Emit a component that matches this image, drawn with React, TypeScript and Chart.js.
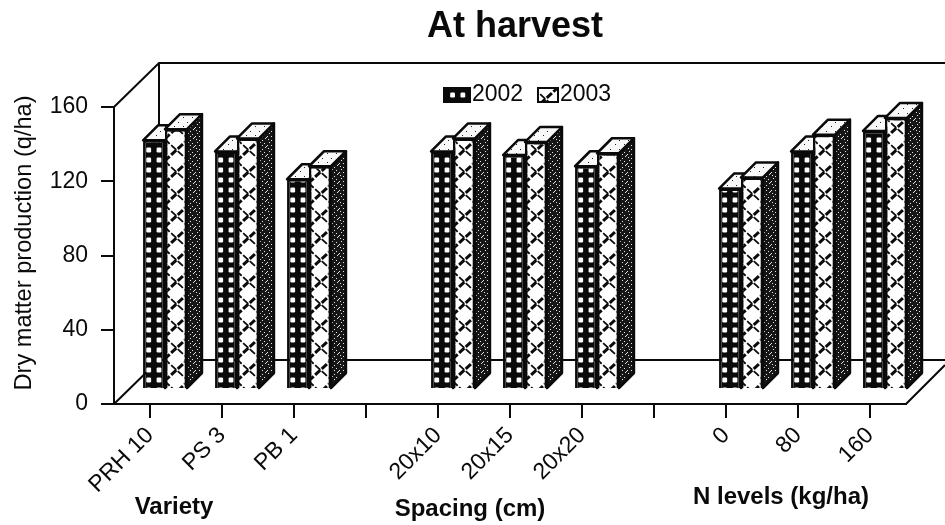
import React, { useEffect, useRef } from "react";
import { Chart, registerables } from "chart.js";

Chart.register(...registerables);

const categories = ["PRH 10", "PS 3", "PB 1", "", "20x10", "20x15", "20x20", "", "0", "80", "160"];
const values2002 = [134, 128, 113, null, 128, 126, 120, null, 108, 128, 139];
const values2003 = [140, 135, 120, null, 135, 133, 127, null, 114, 137, 146];
const seriesNames = ["2002", "2003"];
const yTicks = [0, 40, 80, 120, 160];
const titleText = "At harvest";
const yTitle = "Dry matter production (q/ha)";
const groupLabels = ["Variety", "Spacing (cm)", "N levels (kg/ha)"];

const FONT = '"Liberation Sans", Arial, sans-serif';
const INK = "#0a0a0a";

function tile(w: number, h: number, draw: (c: CanvasRenderingContext2D) => void) {
  const cv = document.createElement("canvas");
  cv.width = w;
  cv.height = h;
  const c = cv.getContext("2d")!;
  draw(c);
  return c.createPattern(cv, "repeat")!;
}
const dots = () =>
  tile(72, 10, (c) => {
    c.fillStyle = INK;
    c.fillRect(0, 0, 72, 10);
    c.fillStyle = "#fff";
    for (let i = 0; i <= 7; i++) {
      c.beginPath();
      c.roundRect((i * 72) / 7 - 2.4, 2.6, 4.8, 4.8, 1.2);
      c.fill();
    }
  });
const cross = () =>
  tile(24, 22, (c) => {
    c.fillStyle = "#fff";
    c.fillRect(0, 0, 24, 22);
    c.strokeStyle = INK;
    c.setLineDash([7, 2]);
    [-24, 0, 24].forEach((ox) => {
      const cx = 17.5 + ox;
      c.lineWidth = 1.8;
      c.beginPath();
      c.moveTo(cx - 12, 0);
      c.lineTo(cx + 12, 22);
      c.stroke();
      c.lineWidth = 3;
      c.beginPath();
      c.moveTo(cx - 12, 22);
      c.lineTo(cx + 12, 0);
      c.stroke();
    });
  });
const speckle = (bg: string, fg: string, spots: number[][]) =>
  tile(9, 9, (c) => {
    c.fillStyle = bg;
    c.fillRect(0, 0, 9, 9);
    c.fillStyle = fg;
    spots.forEach(([x, y]) => c.fillRect(x, y, 1, 1));
  });

const DX = 15;
const DY = -15;
const BAR_D = 15;

const threeD = {
  id: "threeD",
  beforeDatasetsDraw(chart: any) {
    const { ctx, chartArea: a, scales } = chart;
    const y0 = scales.y.getPixelForValue(0);
    const yT = scales.y.getPixelForValue(160);
    const wx = 45;
    const wy = -44;
    ctx.save();
    ctx.strokeStyle = INK;
    ctx.lineWidth = 2;
    ctx.beginPath();
    ctx.moveTo(a.left, yT);
    ctx.lineTo(a.left + wx, yT + wy);
    ctx.lineTo(945, yT + wy);
    ctx.moveTo(a.left + wx, yT + wy);
    ctx.lineTo(a.left + wx, y0 + wy);
    ctx.lineTo(945, y0 + wy);
    ctx.moveTo(a.left + wx, y0 + wy);
    ctx.lineTo(a.left, y0);
    ctx.moveTo(a.right, y0);
    ctx.lineTo(a.right + 39, y0 - 39);
    ctx.stroke();

    const side = speckle("#161616", "#e4e4e4", [[1, 1], [4, 2], [7, 0], [2, 4], [6, 5], [0, 7], [4, 7], [8, 8]]);
    const top = speckle("#f8f8f8", "#222", [[1, 2], [6, 6]]);
    ctx.translate(DX, DY);
    chart.data.datasets.forEach((ds: any, i: number) => {
      chart.getDatasetMeta(i).data.forEach((el: any, j: number) => {
        if (ds.data[j] == null) return;
        const { x, y, width, base } = el.getProps(["x", "y", "width", "base"], true);
        const l = x - width / 2;
        const r = x + width / 2;
        ctx.lineJoin = "round";
        ctx.lineWidth = 2.5;
        ctx.fillStyle = side;
        ctx.beginPath();
        ctx.moveTo(r, y);
        ctx.lineTo(r + BAR_D, y - BAR_D);
        ctx.lineTo(r + BAR_D, base - BAR_D);
        ctx.lineTo(r, base);
        ctx.closePath();
        ctx.fill();
        ctx.stroke();
        ctx.fillStyle = top;
        ctx.beginPath();
        ctx.moveTo(l, y);
        ctx.lineTo(l + BAR_D, y - BAR_D);
        ctx.lineTo(r + BAR_D, y - BAR_D);
        ctx.lineTo(r, y);
        ctx.closePath();
        ctx.fill();
        ctx.stroke();
      });
    });
    ctx.restore();
    ctx.save();
    ctx.translate(DX, DY);
  },
  afterDatasetsDraw(chart: any) {
    chart.ctx.restore();
    const { ctx } = chart;
    ctx.save();
    ctx.fillStyle = INK;
    ctx.textBaseline = "middle";
    ctx.textAlign = "center";
    ctx.font = `bold 36px ${FONT}`;
    ctx.fillText(titleText, 515, 27);
    ctx.font = `bold 24px ${FONT}`;
    ctx.fillText(groupLabels[0], 174, 507);
    ctx.fillText(groupLabels[1], 470, 509);
    ctx.fillText(groupLabels[2], 781, 497);
    ctx.save();
    ctx.translate(24, 243);
    ctx.rotate(-Math.PI / 2);
    ctx.font = `23.6px ${FONT}`;
    ctx.fillText(yTitle, 0, 0);
    ctx.restore();

    ctx.font = `23px ${FONT}`;
    ctx.textAlign = "left";
    const ds = chart.data.datasets;
    const sx = [444, 538];
    const sw = [26, 20];
    const tx = [472, 560];
    ctx.strokeStyle = INK;
    ctx.lineWidth = 2;
    seriesNames.forEach((n, i) => {
      ctx.fillStyle = ds[i].backgroundColor;
      ctx.fillRect(sx[i], 88, sw[i], 14);
      ctx.strokeRect(sx[i], 88, sw[i], 14);
      ctx.fillStyle = INK;
      ctx.fillText(n, tx[i], 95);
    });
    ctx.restore();
  },
};

export default function App() {
  const ref = useRef<HTMLCanvasElement>(null);
  useEffect(() => {
    const chart = new Chart(ref.current!, {
      type: "bar",
      data: {
        labels: categories,
        datasets: [
          { label: seriesNames[0], data: values2002, backgroundColor: dots(), borderColor: INK, borderWidth: 2.5, clip: false },
          { label: seriesNames[1], data: values2003, backgroundColor: cross(), borderColor: INK, borderWidth: 2.5, clip: false },
        ] as any,
      },
      options: {
        animation: false,
        responsive: false,
        layout: { padding: { top: 107, right: 39, left: 0, bottom: 0 } },
        plugins: { legend: { display: false }, title: { display: false }, tooltip: { enabled: false } },
        datasets: { bar: { categoryPercentage: 0.61, barPercentage: 1 } },
        scales: {
          x: {
            afterFit: (s: any) => { s.height = 121; },
            grid: { drawOnChartArea: false, offset: false, color: INK, tickLength: 14, lineWidth: 2 },
            border: { color: INK, width: 2 },
            ticks: { autoSkip: false, maxRotation: 45, minRotation: 45, color: INK, font: { family: FONT, size: 23 }, padding: 4 },
          },
          y: {
            min: 0,
            max: 160,
            afterFit: (s: any) => { s.width = 114; },
            afterBuildTicks: (s: any) => { s.ticks = yTicks.map((value) => ({ value })); },
            grid: { drawOnChartArea: false, color: INK, tickLength: 13, lineWidth: 2 },
            border: { color: INK, width: 2 },
            ticks: { color: INK, font: { family: FONT, size: 23 }, padding: 13 },
          },
        },
      } as any,
      plugins: [threeD as any],
    });
    return () => chart.destroy();
  }, []);
  return (
    <div style={{ position: "fixed", left: 0, top: 0, width: 945, height: 525, background: "#fff" }}>
      <canvas ref={ref} width={945} height={525} style={{ display: "block" }} />
    </div>
  );
}
